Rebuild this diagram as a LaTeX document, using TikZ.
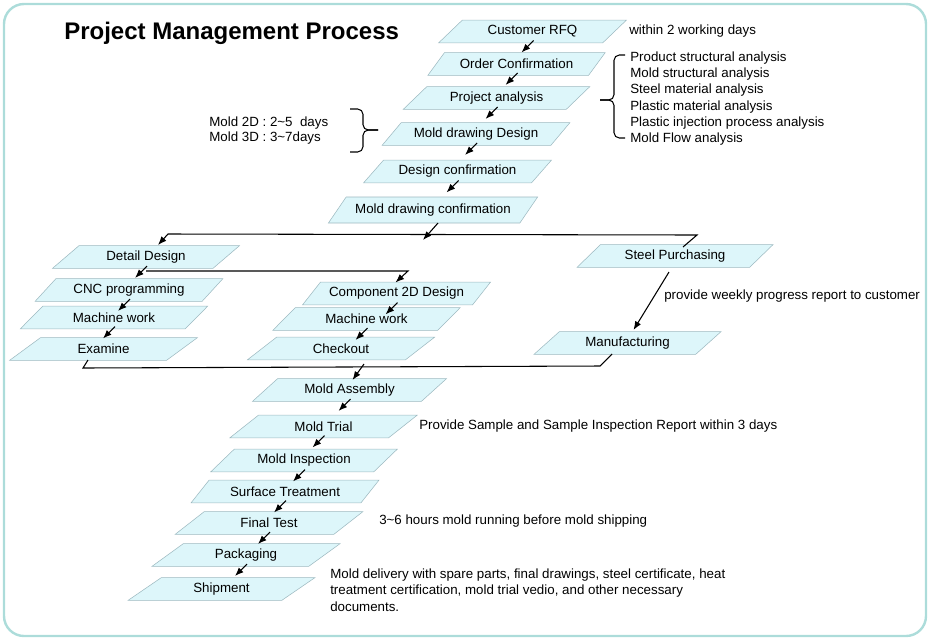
\documentclass[tikz,border=0pt]{standalone}
\usepackage{fontspec}
\setmainfont{Liberation Sans}
\usetikzlibrary{shapes.geometric,arrows.meta}
\definecolor{boxfill}{HTML}{DDF6FA}
\definecolor{boxline}{HTML}{9DB9C0}
\definecolor{framecol}{HTML}{ACDCDA}

\begin{document}
\begin{tikzpicture}[x=0.75pt,y=-0.75pt,
    box/.style={trapezium, trapezium left angle=43, trapezium right angle=137,
        trapezium stretches=true,
        draw=boxline, fill=boxfill, minimum width=141pt, minimum height=17pt,
        inner sep=1pt, font=\fontsize{10}{11}\selectfont},
    note/.style={anchor=west, inner sep=0pt, align=left,
        font=\fontsize{10}{12.2}\selectfont},
    flow/.style={-{Latex[length=6.5pt,width=5pt]}, line width=0.8pt},
    link/.style={line width=0.8pt}]
    \useasboundingbox (0,0) rectangle (930,640);
    \draw[framecol, line width=1.8pt, rounded corners=15pt] (4,4) rectangle (926,636);
    \node[anchor=west, inner sep=0pt, font=\fontsize{18}{20}\selectfont\bfseries] (title) at (64,33) {Project Management Process};

    % main line
    \node[box] (rfq) at (532.5,31.5) {Customer RFQ};
    \node[box, minimum width=133pt] (order) at (516.5,64) {Order Confirmation};
    \node[box] (project) at (496.5,98) {Project analysis};
    \node[box] (mdd) at (476,134) {Mold drawing Design};
    \node[box] (dconf) at (457.5,171.5) {Design confirmation};
    \node[box, minimum width=157pt, minimum height=19.5pt] (mdconf) at (433,210) {Mold drawing confirmation};

    % branches
    \node[box] (detail) at (146,257) {Detail Design};
    \node[box] (cnc) at (129,290) {CNC programming};
    \node[box] (mwa) at (114,317.5) {Machine work};
    \node[box] (exam) at (103.5,349) {Examine};
    \node[box] (comp) at (396.5,293.5) {Component 2D Design};
    \node[box] (mwb) at (366.5,319) {Machine work};
    \node[box] (check) at (341,348.5) {Checkout};
    \node[box, minimum width=147pt] (steel) at (675,256) {Steel Purchasing};
    \node[box] (manu) at (627.5,343) {Manufacturing};

    % assembly to shipment
    \node[box, minimum width=146pt] (assy) at (349.5,390) {Mold Assembly};
    \node[box] (trial) at (323.5,426.5) {Mold Trial};
    \node[box] (insp) at (304,460.5) {Mold Inspection};
    \node[box] (surf) at (285,491.5) {Surface Treatment};
    \node[box] (final) at (269,523) {Final Test};
    \node[box] (pack) at (246,555) {Packaging};
    \node[box] (ship) at (221.5,589) {Shipment};

    \foreach \a/\b/\ex/\ey in {rfq/order/5/-11.5, order/project/9/-13, project/mdd/9.5/-15,
        mdd/dconf/7.5/-16.5, dconf/mdconf/13.5/-17.5,
        detail/cnc/6/-12, cnc/mwa/4/-6.5, mwa/exam/-0.5/-10.5,
        comp/mwb/19/-4.5, mwb/check/14.5/-8.5,
        assy/trial/15/-15.5, trial/insp/8.5/-13, insp/surf/8/-10,
        surf/final/5/-10.5, final/pack/12/-11, pack/ship/13.5/-13}
        \draw[flow] ([shift={(1,9)}]\a.center) -- ([shift={(\ex,\ey)}]\b.center);

    % splits and joins
    \coordinate (split) at (423,240);
    \coordinate (busL) at (168,234);
    \coordinate (busR) at (697,235);
    \draw[flow] ([shift={(5,13)}]mdconf.center) -- (split);
    \draw[flow, {Latex[length=6.5pt,width=5pt]}-] ([shift={(12,-12)}]detail.center) -- (busL) -- (busR) -- ([shift={(8,-9)}]steel.center);
    \coordinate (turn) at (408,271);
    \draw[flow] ([shift={(0,14)}]detail.center) -- (turn) -- ([shift={(-1,-11)}]comp.center);
    \draw[flow] ([shift={(-6,16)}]steel.center) -- ([shift={(6,-13)}]manu.center);
    \coordinate (joinL) at (83,368);
    \coordinate (joinR) at (600,366);
    \coordinate (join) at (364,364);
    \draw[link] ([shift={(-15.5,11)}]exam.center) -- (joinL) -- (joinR) -- ([shift={(-15.5,11)}]manu.center);
    \draw[flow] (join) -- ([shift={(3,-10)}]assy.center);

    % braces
    \draw[link, rounded corners=4pt] (625,55) -- (614,55) -- (614,100) -- (600,100);
    \draw[link, rounded corners=4pt] (600,100) -- (614,100) -- (614,138) -- (625,138);
    \draw[link, rounded corners=4pt] (350,109) -- (363,109) -- (363,130) -- (378,130);
    \draw[link, rounded corners=4pt] (378,130) -- (363,130) -- (363,152) -- (350,152);

    % notes
    \node[note] (within) at (629,31) {within 2 working days};
    \node[note] (analysis) at (630,98.5) {Product structural analysis\\Mold structural analysis\\Steel material analysis\\Plastic material analysis\\Plastic injection process analysis\\Mold Flow analysis};
    \node[note, font=\fontsize{10}{11.25}\selectfont] (days) at (209,130.5) {Mold 2D : 2\textasciitilde5~ days\\Mold 3D : 3\textasciitilde7days};
    \node[note] (weekly) at (664,296) {provide weekly progress report to customer};
    \node[note] (sample) at (419,426) {Provide Sample and Sample Inspection Report within 3 days};
    \node[note] (running) at (379,521) {3\textasciitilde6 hours mold running before mold shipping};
    \node[note, font=\fontsize{10}{12.4}\selectfont] (delivery) at (330,590) {Mold delivery with spare parts, final drawings, steel certificate, heat\\treatment certification, mold trial vedio, and other necessary\\documents.};
\end{tikzpicture}
\end{document}
